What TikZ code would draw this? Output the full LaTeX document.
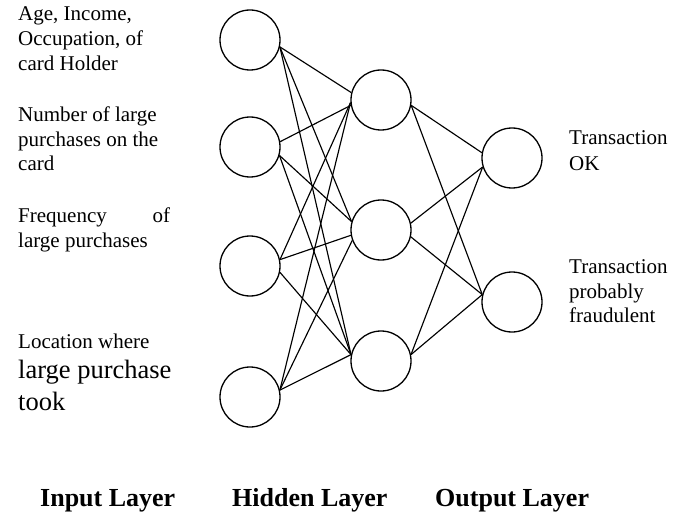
\documentclass[tikz,border=0pt]{standalone}
\usepackage{fontspec}
\setmainfont{Liberation Serif}
\begin{document}
\begin{tikzpicture}[x=1pt,y=-1pt,
  neuron/.style={circle,draw,line width=1.3pt,minimum size=60pt,inner sep=0pt},
  link/.style={line width=1.15pt},
  lbl/.style={anchor=base west,inner sep=0pt,font=\fontsize{21}{24}\selectfont},
  biglbl/.style={anchor=base west,inner sep=0pt,font=\fontsize{26.5}{30}\selectfont},
  layer/.style={anchor=base west,inner sep=0pt,font=\fontsize{26}{30}\selectfont\bfseries}]
\useasboundingbox (0,0) rectangle (688,524);
% neurons
\node[neuron] (in1) at (250,40) {};
\node[neuron] (in2) at (250,147) {};
\node[neuron] (in3) at (250,266) {};
\node[neuron] (in4) at (250,397) {};
\node[neuron] (hid1) at (381,100) {};
\node[neuron] (hid2) at (381,230) {};
\node[neuron] (hid3) at (381,361) {};
\node[neuron] (out1) at (512,158) {};
\node[neuron] (out2) at (512,302) {};
% input -> hidden
\draw[link] (in1.-13) -- (hid1.166);
\draw[link] (in1.-13) -- (hid2.164);
\draw[link] (in1.-13) -- (hid3.168);
\draw[link] (in2.10) -- (hid1.190);
\draw[link] (in2.-16) -- (hid2.164);
\draw[link] (in2.-16) -- (hid3.168);
\draw[link] (in3.12) -- (hid1.185);
\draw[link] (in3.12) -- (hid2.190);
\draw[link] (in3.-12) -- (hid3.168);
\draw[link] (in4.13) -- (hid1.185);
\draw[link] (in4.13) -- (hid2.200);
\draw[link] (in4.13) -- (hid3.168);
% hidden -> output
\draw[link] (hid1.-10) -- (out1.170);
\draw[link] (hid1.-10) -- (out2.166);
\draw[link] (hid2.13) -- (out1.197);
\draw[link] (hid2.-13) -- (out2.166);
\draw[link] (hid3.12) -- (out1.197);
\draw[link] (hid3.12) -- (out2.166);
% left labels
\node[lbl] (a1) at (18,21) {Age, Income,};
\node[lbl] (a2) at (18,46) {Occupation, of};
\node[lbl] (a3) at (18,71) {card Holder};
\node[lbl] (b1) at (18,122) {Number of large};
\node[lbl] (b2) at (18,146.5) {purchases on the};
\node[lbl] (b3) at (18,171) {card};
\node[lbl] (c1) at (18,222) {\makebox[152pt][l]{Frequency\hfill of}};
\node[lbl] (c2) at (18,247) {large purchases};
\node[lbl] (d1) at (18,348) {Location where};
\node[biglbl] (d2) at (18,378) {large purchase};
\node[biglbl] (d3) at (18,410) {took};
% right labels
\node[lbl] (e1) at (569,145) {Transaction};
\node[lbl] (e2) at (569,171) {OK};
\node[lbl] (f1) at (569,273) {Transaction};
\node[lbl] (f2) at (569,298) {probably};
\node[lbl] (f3) at (569,322) {fraudulent};
% layer titles
\node[layer] (l1) at (40,506) {Input Layer};
\node[layer] (l2) at (232,506) {Hidden Layer};
\node[layer] (l3) at (435,506) {Output Layer};
\end{tikzpicture}
\end{document}
